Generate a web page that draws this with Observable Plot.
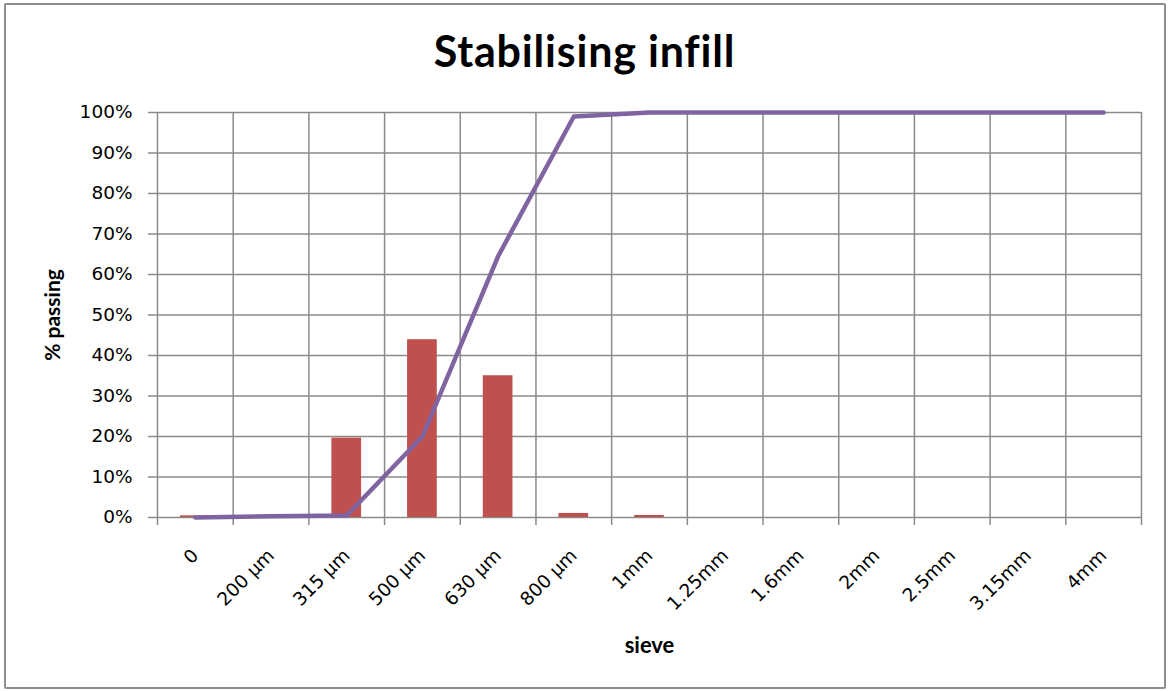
<!DOCTYPE html>
<html>
<head>
<meta charset="utf-8">
<script src="https://cdn.jsdelivr.net/npm/d3@7"></script>
<script src="https://cdn.jsdelivr.net/npm/@observablehq/plot@0.6"></script>
<style>
  html, body { margin: 0; padding: 0; background: #fff; }
  #chart { position: relative; width: 1169px; height: 691px; overflow: hidden; }
  #frame { position: absolute; left: 4px; top: 3px; width: 1158px; height: 682px; border: 2px solid #8e8e8e; border-radius: 2px; }
  #title { position: absolute; left: 0; top: 25px; width: 1169px; text-align: center;
           font-family: Lato, sans-serif; font-weight: 700; font-size: 43px; color: #000; letter-spacing: 0.8px; }
  #plot { position: absolute; left: 0; top: 90px; }
</style>
</head>
<body>
<div id="chart">
  <div id="frame"></div>
  <div id="title">Stabilising infill</div>
  <div id="plot"></div>
</div>
<script>
// Sieve sizes along the x axis
const sieves = ["0", "200 µm", "315 µm", "500 µm", "630 µm", "800 µm", "1mm", "1.25mm", "1.6mm", "2mm", "2.5mm", "3.15mm", "4mm"];
// Percentage retained on each sieve (bars)
const retained = [0.4, 0.1, 19.6, 43.9, 35.0, 1.0, 0.5, 0, 0, 0, 0, 0, 0];
// Cumulative percentage passing (line)
const passing = [0, 0.3, 0.5, 20, 64.5, 99, 100, 100, 100, 100, 100, 100, 100];
// Y axis ticks
const yTicks = [0, 10, 20, 30, 40, 50, 60, 70, 80, 90, 100];

const rows = sieves.map((s, i) => ({sieve: s, i, retained: retained[i], passing: passing[i]}));
const bounds = d3.range(sieves.length + 1);

const grid = "#8a8a8a";
const tickFont = "DejaVu Sans, sans-serif";

const chart = Plot.plot({
  width: 1169,
  height: 601,
  marginLeft: 157,
  marginRight: 28,
  marginTop: 22,
  marginBottom: 174,
  style: {fontFamily: tickFont, fontSize: "16px", color: "#000", background: "transparent"},
  x: {type: "linear", domain: [0, sieves.length], axis: null},
  y: {domain: [0, 100], axis: null},
  marks: [
    // horizontal gridlines
    Plot.ruleY(yTicks, {stroke: grid, strokeWidth: 1.5}),
    // vertical gridlines on category boundaries
    Plot.ruleX(bounds, {stroke: grid, strokeWidth: 1.5}),
    // y axis with outward ticks
    Plot.axisY(yTicks, {tickSize: 9, tickPadding: 16, stroke: grid, strokeWidth: 1.5, fill: "#000",
      fontSize: 18.5, tickFormat: d => d + "%"}),
    // x axis tick marks on boundaries
    Plot.axisX(bounds, {tickSize: 8, stroke: grid, strokeWidth: 1.5, tickFormat: () => "", label: null}),
    // retained bars
    Plot.rectY(rows, {x1: "i", x2: d => d.i + 1, y: "retained", fill: "#C0504D", insetLeft: 23, insetRight: 23}),
    // passing curve
    Plot.line(rows, {x: d => d.i + 0.5, y: "passing", stroke: "#8064A2", strokeWidth: 4.5, strokeLinejoin: "round"}),
    // rotated sieve labels
    Plot.text(rows, {x: d => d.i + 0.5, text: "sieve", frameAnchor: "bottom", rotate: -45, textAnchor: "end",
      lineAnchor: "middle", dx: 0, dy: 35, fontSize: 18.5, fill: "#000"}),
    // axis titles
    Plot.text(["% passing"], {frameAnchor: "left", textAnchor: "middle", lineAnchor: "middle", dx: -104, rotate: -90,
      fontFamily: "Lato, sans-serif", fontWeight: 700, fontSize: 21, fill: "#000"}),
    Plot.text(["sieve"], {frameAnchor: "bottom", textAnchor: "middle", lineAnchor: "middle", dy: 128,
      fontFamily: "Lato, sans-serif", fontWeight: 700, fontSize: 22, fill: "#000"})
  ]
});
document.getElementById("plot").appendChild(chart);
</script>
</body>
</html>
